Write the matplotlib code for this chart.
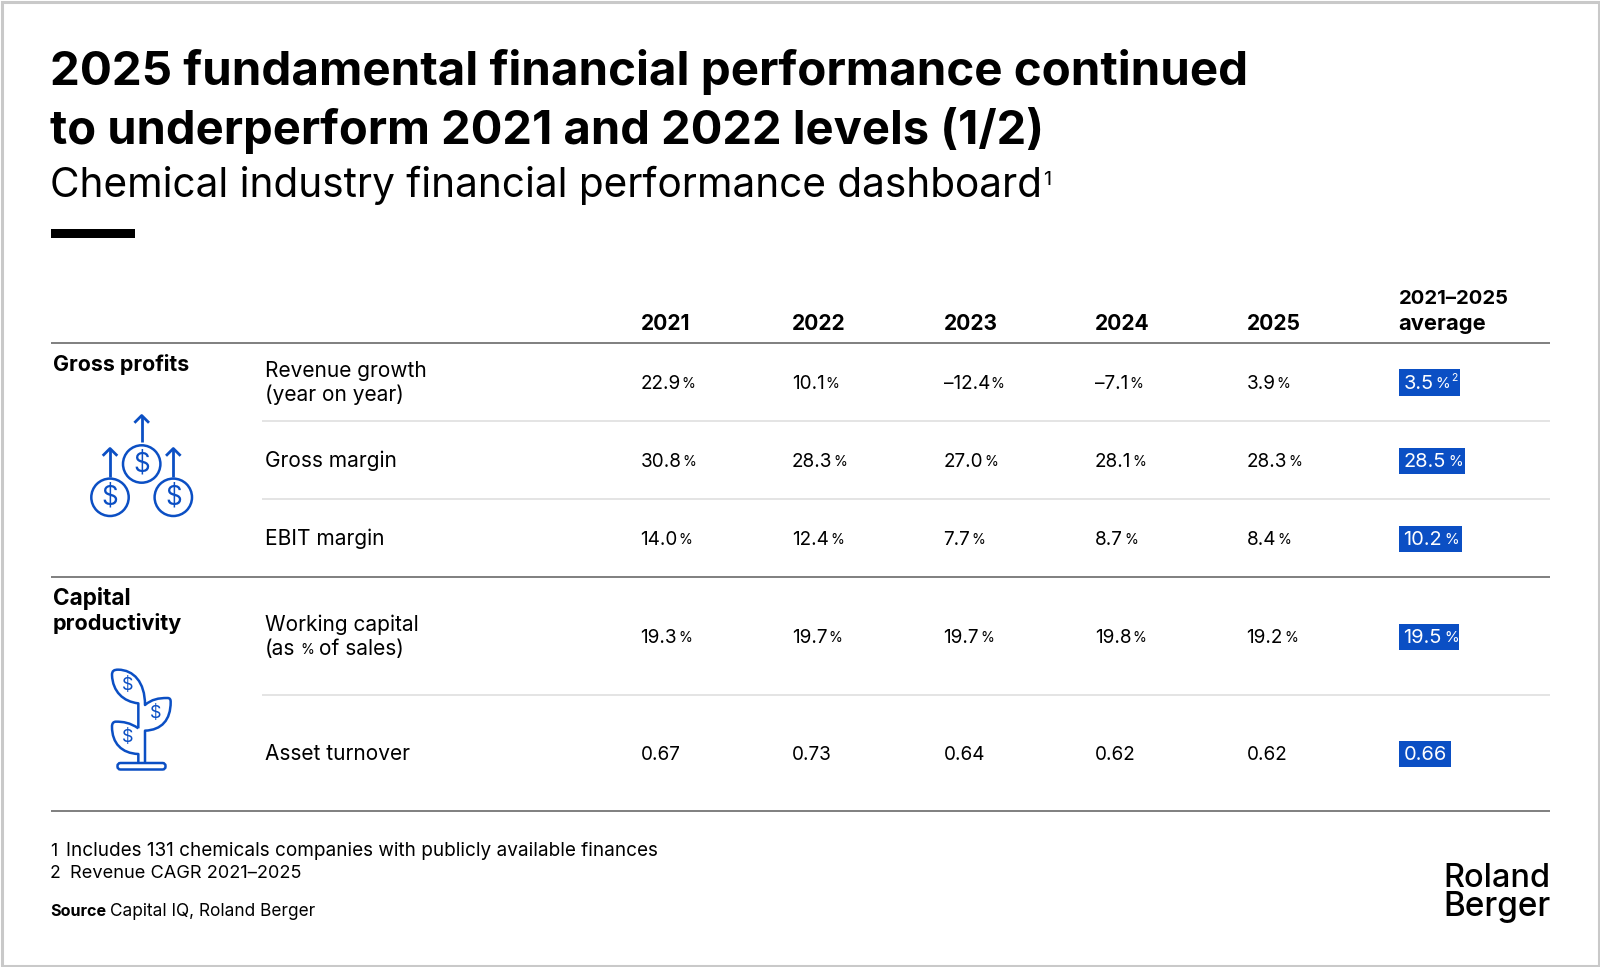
import matplotlib
matplotlib.use("Agg")
import matplotlib.pyplot as plt
from matplotlib.patches import Circle, Rectangle, FancyBboxPatch, PathPatch
from matplotlib.path import Path

FONT = "Inter"
plt.rcParams["font.family"] = [FONT, "DejaVu Sans"]

title_lines = ["2025 fundamental financial performance continued",
               "to underperform 2021 and 2022 levels (1/2)"]
subtitle = "Chemical industry financial performance dashboard"
years = ["2021", "2022", "2023", "2024", "2025"]
avg_header = ["2021–2025", "average"]
row_labels = [["Revenue growth", "(year on year)"], ["Gross margin"], ["EBIT margin"],
              ["Working capital", "(as % of sales)"], ["Asset turnover"]]
revenue_growth = ["22.9", "10.1", "–12.4", "–7.1", "3.9"]
gross_margin = ["30.8", "28.3", "27.0", "28.1", "28.3"]
ebit_margin = ["14.0", "12.4", "7.7", "8.7", "8.4"]
working_capital = ["19.3", "19.7", "19.7", "19.8", "19.2"]
asset_turnover = ["0.67", "0.73", "0.64", "0.62", "0.62"]
averages = ["3.5", "28.5", "10.2", "19.5", "0.66"]
rows = [revenue_growth, gross_margin, ebit_margin, working_capital, asset_turnover]
has_pct = [True, True, True, True, False]
footnote_nums = ["1", "2"]
footnotes = ["Includes 131 chemicals companies with publicly available finances",
             "Revenue CAGR 2021–2025"]

BLUE = "#0b4fc4"
INK = "#000000"
W, H = 1600, 967
fig = plt.figure(figsize=(W / 100, H / 100), dpi=100)
ax = fig.add_axes([0, 0, 1, 1])
ax.set_xlim(0, W)
ax.set_ylim(H, 0)
ax.axis("off")
rend = fig.canvas.get_renderer()


def px(size):
    return size * 0.72


def T(x, y, s, size, weight="normal", color=INK, width=None, ha="left"):
    t = ax.text(x, y, s, fontsize=px(size), fontweight=weight, color=color, va="baseline", ha=ha)
    if width:
        w = t.get_window_extent(rend).width
        t.set_fontsize(px(size) * width / w)
    return t


def right(t):
    return t.get_window_extent(rend).x1


# frame
ax.add_patch(Rectangle((1.5, 1.5), W - 3, H - 3, fill=False, ec="#c9c9c9", lw=2.2))

# heading
T(50.5, 85, title_lines[0], 47, "bold", width=1196)
T(50.5, 144, title_lines[1], 47, "bold", width=993)
st = T(50.5, 197, subtitle, 38, "normal", width=990)
T(right(st) + 1, 185, "1", 20, "normal")
ax.add_patch(Rectangle((50.5, 229), 84, 9, fc="#000000", ec="none"))

# column headers
col_x = [640.5, 792, 943.5, 1095, 1246.5]
avg_x = 1398.5
for x, y in zip(col_x, years):
    T(x, 330, y, 21, "bold")
T(avg_x, 304.5, avg_header[0], 21, "bold", width=110)
T(avg_x, 330.5, avg_header[1], 21, "bold", width=88)

# rules
for y in (343, 576.5, 811):
    ax.plot([50.5, 1550], [y, y], color="#7f7f7f", lw=1.4, solid_capstyle="butt")
for y in (420.5, 498.5, 694.5):
    ax.plot([262, 1550], [y, y], color="#dcdcdc", lw=1.1, solid_capstyle="butt")

# section labels
T(53, 371, "Gross profits", 21, "bold", width=136)
T(53, 605, "Capital", 21, "bold", width=78)
T(53, 630.5, "productivity", 21, "bold", width=129)

# rows
row_y = [381.6, 460, 538, 636, 753]
box_w = [61.5, 66.5, 63.5, 60.5, 52]
LABEL = 20.9
for ry, lab, vals, pct, avg, bw in zip(row_y, row_labels, rows, has_pct, averages, box_w):
    base = ry + 7
    if len(lab) == 2:
        T(265, base - 12, lab[0], LABEL)
        if "%" in lab[1]:
            left, tail = lab[1].split("%")
            a = T(265, base + 12.5, left.rstrip(), LABEL)
            b = T(right(a) + 5, base + 11.5, "%", 14)
            T(right(b) + 5, base + 12.5, tail.strip(), LABEL)
        else:
            T(265, base + 12.5, lab[1], LABEL)
    else:
        T(265, base, lab[0], LABEL)
    for x, v in zip(col_x, vals):
        t = T(x, base, v, 19)
        if pct:
            T(right(t) + 1, base - 1, "%", 14)
    ax.add_patch(Rectangle((1398.5, ry - 12.5), bw, 26.5, fc=BLUE, ec="none"))
    t = T(avg_x + 5, base, avg, 20, color="white")
    if pct:
        p = T(right(t) + 2, base - 1, "%", 15, color="white")
        if avg == "3.5":
            T(right(p) + 1, base - 7.5, "2", 10.5, color="white")

# gross profit icon
lw_i = 1.8
for cx, cy in [(110, 497.3), (141.7, 464), (173.3, 497.3)]:
    ax.add_patch(Circle((cx, cy), 18.7, fill=False, ec=BLUE, lw=lw_i))
    ax.text(cx, cy + 0.5, "$", fontsize=px(26), color=BLUE, ha="center", va="center")
for x, y0, y1 in [(110, 476.5, 448.5), (141.7, 441.5, 415.5), (173.3, 476.5, 448.5)]:
    ax.plot([x, x], [y0, y1], color=BLUE, lw=lw_i + 0.2, solid_capstyle="butt")
    ax.plot([x - 6.3, x, x + 6.3], [y1 + 6.3, y1, y1 + 6.3], color=BLUE, lw=lw_i + 0.2)


# plant icon
def z(a, b):
    return (40 + a / 3, 570 + b / 3)


M, L, C = Path.MOVETO, Path.LINETO, Path.CURVE4
verts = [z(295, 475), z(295, 400),
         z(250, 395), z(218, 365), z(216, 315),
         z(216, 302), z(222, 299), z(235, 299),
         z(280, 300), z(315, 335), z(315, 405),
         z(335, 388), z(355, 384), z(382, 384),
         z(390, 384), z(392, 388), z(392, 396),
         z(392, 450), z(365, 480), z(315, 482),
         z(315, 578)]
codes = [M, L, C, C, C, C, C, C, C, C, C, C, C, C, C, C, C, C, C, C, L]
ax.add_patch(PathPatch(Path(verts, codes), fill=False, ec=BLUE, lw=lw_i, joinstyle="round"))
verts2 = [z(295, 475), z(270, 458), z(250, 455), z(228, 455),
          z(220, 455), z(216, 460), z(216, 470),
          z(216, 520), z(245, 550), z(295, 552), z(295, 578)]
codes2 = [M, C, C, C, C, C, C, C, C, C, L]
ax.add_patch(PathPatch(Path(verts2, codes2), fill=False, ec=BLUE, lw=lw_i, joinstyle="round"))
ax.add_patch(FancyBboxPatch((117.5, 763), 48, 6.5, boxstyle="round,pad=0,rounding_size=3",
                            fill=False, ec=BLUE, lw=lw_i))
for a, b in [(262, 347), (348, 431), (262, 502)]:
    xx, yy = z(a, b)
    ax.text(xx, yy, "$", fontsize=px(18), color=BLUE, ha="center", va="center")

# footnotes
for num, note, y, x, w in zip(footnote_nums, footnotes, (856, 878), (66.5, 69.5), (589, 231.5)):
    T(50, y, num, 17.5)
    T(x, y, note, 17.5, width=w)
T(50, 916, "Source", 17, "bold", width=56)
T(110, 916, "Capital IQ, Roland Berger", 17, width=204)

# logo
T(1443, 886.7, "Roland", 33, "medium", width=107)
T(1443, 916, "Berger", 33, "medium", width=107)

fig.savefig("out.png", dpi=100)
